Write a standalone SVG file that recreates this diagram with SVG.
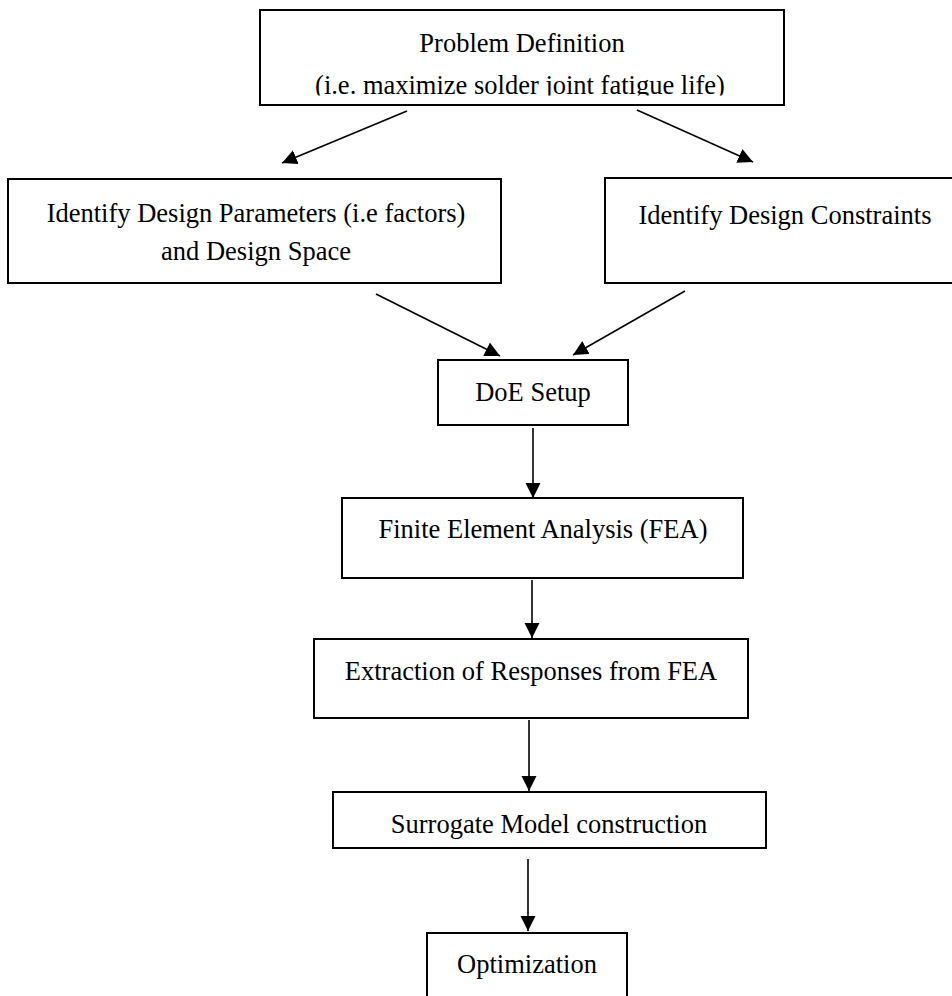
<svg xmlns="http://www.w3.org/2000/svg" width="952" height="996" viewBox="0 0 952 996">
<style>
.box{fill:#fff;stroke:#000;stroke-width:2}
.t{font-family:"Liberation Serif","Times New Roman",serif;font-size:26.5px;fill:#000;text-anchor:middle}
.c{stroke:#000;stroke-width:1.6;fill:none;marker-end:url(#ah)}
</style>
<defs>
<marker id="ah" markerUnits="userSpaceOnUse" markerWidth="16" markerHeight="16" refX="15" refY="7.5" orient="auto">
<path d="M0,0 L15,7.5 L0,15 z" fill="#000"/>
</marker>
<clipPath id="clipTop"><rect x="261" y="11" width="522" height="84.5"/></clipPath>
</defs>
<rect width="952" height="996" fill="#fff"/>
<g id="connectors">
<line class="c" x1="407" y1="111" x2="282" y2="163"/>
<line class="c" x1="637" y1="110" x2="753" y2="162"/>
<line class="c" x1="376" y1="294" x2="500" y2="356"/>
<line class="c" x1="685" y1="291" x2="573" y2="355"/>
<line class="c" x1="533" y1="428" x2="533" y2="498"/>
<line class="c" x1="532" y1="580" x2="532" y2="638"/>
<line class="c" x1="529" y1="720" x2="529" y2="791"/>
<line class="c" x1="528" y1="859" x2="528" y2="931"/>
</g>
<g id="problem">
<rect class="box" x="260" y="10" width="524" height="95"/>
<text class="t" x="522" y="52">Problem Definition</text>
<text class="t" x="520" y="93.5" clip-path="url(#clipTop)">(i.e. maximize solder joint fatigue life)</text>
</g>
<g id="params">
<rect class="box" x="8" y="179" width="493" height="104"/>
<text class="t" x="256" y="222">Identify Design Parameters (i.e factors)</text>
<text class="t" x="256" y="260">and Design Space</text>
</g>
<g id="constraints">
<rect class="box" x="605" y="178" width="360" height="105"/>
<text class="t" x="785" y="224">Identify Design Constraints</text>
</g>
<g id="doe">
<rect class="box" x="438" y="360" width="190" height="65"/>
<text class="t" x="533" y="401">DoE Setup</text>
</g>
<g id="fea">
<rect class="box" x="342" y="498" width="401" height="80"/>
<text class="t" x="543" y="538">Finite Element Analysis (FEA)</text>
</g>
<g id="extraction">
<rect class="box" x="314" y="639" width="434" height="79"/>
<text class="t" x="531" y="680">Extraction of Responses from FEA</text>
</g>
<g id="surrogate">
<rect class="box" x="333" y="792" width="433" height="56"/>
<text class="t" x="549" y="833">Surrogate Model construction</text>
</g>
<g id="optimization">
<rect class="box" x="427" y="933" width="200" height="80"/>
<text class="t" x="527" y="973">Optimization</text>
</g>
</svg>
